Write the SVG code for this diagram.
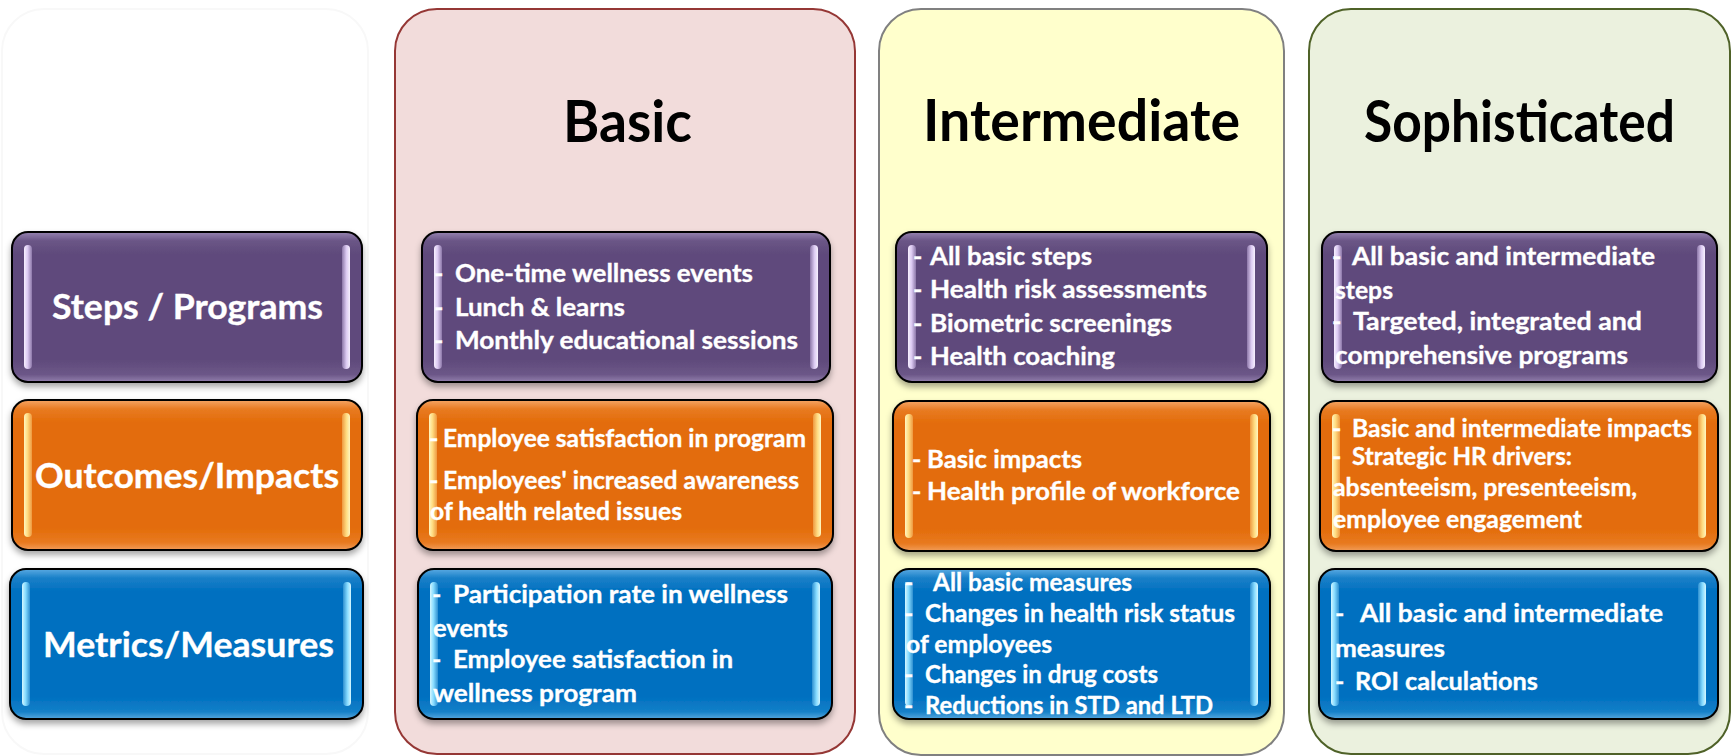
<svg xmlns="http://www.w3.org/2000/svg" width="1734" height="756" viewBox="0 0 1734 756">
  <defs>
    <style>
      .box{stroke:#000;stroke-width:2}
      .t{font-family:Lato,"Liberation Sans",sans-serif;font-weight:700;font-size:25px;fill:#fff;stroke:#fff;stroke-width:0.35}
      .lbl{font-size:35px}
      .ttl{font-family:Lato,"Liberation Sans",sans-serif;font-weight:700;font-size:58px;fill:#000}
      .col{stroke-width:2}
    </style>
    <filter id="sh" x="-10%" y="-10%" width="120%" height="130%">
      <feDropShadow dx="0" dy="4" stdDeviation="3" flood-color="#000" flood-opacity="0.35"/>
    </filter>
    <!-- glossy fills -->
    <linearGradient id="gP" x1="0" y1="0" x2="0" y2="1">
      <stop offset="0" stop-color="#9683B0"/>
      <stop offset="0.06" stop-color="#6A5586"/>
      <stop offset="0.15" stop-color="#5F4A7B"/>
      <stop offset="0.85" stop-color="#5F4A7B"/>
      <stop offset="0.95" stop-color="#6C5788"/>
      <stop offset="1" stop-color="#927FAD"/>
    </linearGradient>
    <linearGradient id="gO" x1="0" y1="0" x2="0" y2="1">
      <stop offset="0" stop-color="#F5A565"/>
      <stop offset="0.06" stop-color="#E87B22"/>
      <stop offset="0.15" stop-color="#E36C0A"/>
      <stop offset="0.85" stop-color="#E36C0A"/>
      <stop offset="0.95" stop-color="#E87A20"/>
      <stop offset="1" stop-color="#F29C58"/>
    </linearGradient>
    <linearGradient id="gB" x1="0" y1="0" x2="0" y2="1">
      <stop offset="0" stop-color="#5AAAE2"/>
      <stop offset="0.06" stop-color="#1A80C8"/>
      <stop offset="0.15" stop-color="#0070C0"/>
      <stop offset="0.85" stop-color="#0070C0"/>
      <stop offset="0.95" stop-color="#1480C8"/>
      <stop offset="1" stop-color="#55A6DE"/>
    </linearGradient>
    <!-- side highlight bars -->
    <linearGradient id="bPL" x1="0" y1="0" x2="1" y2="0">
      <stop offset="0" stop-color="#F7F0FF"/>
      <stop offset="0.45" stop-color="#DCCAF2"/>
      <stop offset="1" stop-color="#8C77A8"/>
    </linearGradient>
    <linearGradient id="bPR" x1="1" y1="0" x2="0" y2="0">
      <stop offset="0" stop-color="#F7F0FF"/>
      <stop offset="0.45" stop-color="#DCCAF2"/>
      <stop offset="1" stop-color="#8C77A8"/>
    </linearGradient>
    <linearGradient id="bOL" x1="0" y1="0" x2="1" y2="0">
      <stop offset="0" stop-color="#FFF6C0"/>
      <stop offset="0.45" stop-color="#FFDB80"/>
      <stop offset="1" stop-color="#EE9840"/>
    </linearGradient>
    <linearGradient id="bOR" x1="1" y1="0" x2="0" y2="0">
      <stop offset="0" stop-color="#FFF6C0"/>
      <stop offset="0.45" stop-color="#FFDB80"/>
      <stop offset="1" stop-color="#EE9840"/>
    </linearGradient>
    <linearGradient id="bBL" x1="0" y1="0" x2="1" y2="0">
      <stop offset="0" stop-color="#D4F7FF"/>
      <stop offset="0.45" stop-color="#86DBFF"/>
      <stop offset="1" stop-color="#2E8FD0"/>
    </linearGradient>
    <linearGradient id="bBR" x1="1" y1="0" x2="0" y2="0">
      <stop offset="0" stop-color="#D4F7FF"/>
      <stop offset="0.45" stop-color="#86DBFF"/>
      <stop offset="1" stop-color="#2E8FD0"/>
    </linearGradient>
  </defs>

  <rect width="1734" height="756" fill="#fff"/>

  <!-- column panels -->
  <g id="col-labels">
    <rect x="2" y="9" width="366" height="745" rx="42" fill="#fff" stroke="#F8F8F8" class="col"/>
  </g>
  <g id="col-basic">
    <rect x="395" y="9" width="460" height="745" rx="42" fill="#F2DCDB" stroke="#953735" class="col"/>
    <text class="ttl" x="563" y="142" textLength="129" lengthAdjust="spacingAndGlyphs">Basic</text>
  </g>
  <g id="col-intermediate">
    <rect x="879" y="9" width="405" height="746" rx="42" fill="#FFFFCC" stroke="#808080" class="col"/>
    <text class="ttl" x="923" y="141" textLength="317" lengthAdjust="spacingAndGlyphs">Intermediate</text>
  </g>
  <g id="col-sophisticated">
    <rect x="1309" y="9" width="421" height="745" rx="42" fill="#EBF1DE" stroke="#4F6228" class="col"/>
    <text class="ttl" x="1364" y="142" textLength="311" lengthAdjust="spacingAndGlyphs">Sophisticated</text>
  </g>

  <!-- row headers -->
  <g id="label-steps">
    <rect class="box" x="12" y="232" width="350" height="150" rx="16" fill="url(#gP)" filter="url(#sh)"/>
    <rect x="24" y="245" width="8" height="124" rx="4" fill="url(#bPL)"/>
    <rect x="342" y="245" width="8" height="124" rx="4" fill="url(#bPR)"/>
    <text class="t lbl" x="52" y="319" textLength="271" lengthAdjust="spacingAndGlyphs">Steps / Programs</text>
  </g>
  <g id="label-outcomes">
    <rect class="box" x="12" y="400" width="350" height="150" rx="16" fill="url(#gO)" filter="url(#sh)"/>
    <rect x="24" y="413" width="8" height="124" rx="4" fill="url(#bOL)"/>
    <rect x="342" y="413" width="8" height="124" rx="4" fill="url(#bOR)"/>
    <text class="t lbl" x="35" y="488" textLength="304" lengthAdjust="spacingAndGlyphs">Outcomes/Impacts</text>
  </g>
  <g id="label-metrics">
    <rect class="box" x="10" y="569" width="353" height="150" rx="16" fill="url(#gB)" filter="url(#sh)"/>
    <rect x="22" y="582" width="8" height="124" rx="4" fill="url(#bBL)"/>
    <rect x="343" y="582" width="8" height="124" rx="4" fill="url(#bBR)"/>
    <text class="t lbl" x="43" y="657" textLength="291" lengthAdjust="spacingAndGlyphs">Metrics/Measures</text>
  </g>

  <!-- Basic -->
  <g id="basic-steps">
    <rect class="box" x="422" y="232" width="408" height="150" rx="16" fill="url(#gP)" filter="url(#sh)"/>
    <rect x="434" y="245" width="8" height="124" rx="4" fill="url(#bPL)"/>
    <rect x="810" y="245" width="8" height="124" rx="4" fill="url(#bPR)"/>
    <text class="t" x="434" y="282">-</text>
    <text class="t" x="434" y="316">-</text>
    <text class="t" x="434" y="349">-</text>
    <text class="t" x="455" y="282" textLength="298" lengthAdjust="spacingAndGlyphs">One-time wellness events</text>
    <text class="t" x="455" y="316" textLength="170" lengthAdjust="spacingAndGlyphs">Lunch &amp; learns</text>
    <text class="t" x="455" y="349" textLength="343" lengthAdjust="spacingAndGlyphs">Monthly educational sessions</text>
  </g>
  <g id="basic-outcomes">
    <rect class="box" x="417" y="400" width="416" height="150" rx="16" fill="url(#gO)" filter="url(#sh)"/>
    <rect x="429" y="413" width="8" height="124" rx="4" fill="url(#bOL)"/>
    <rect x="813" y="413" width="8" height="124" rx="4" fill="url(#bOR)"/>
    <text class="t" x="429" y="447">-</text>
    <text class="t" x="429" y="489">-</text>
    <text class="t" x="443" y="447" textLength="363" lengthAdjust="spacingAndGlyphs">Employee satisfaction in program</text>
    <text class="t" x="443" y="489" textLength="356" lengthAdjust="spacingAndGlyphs">Employees' increased awareness</text>
    <text class="t" x="430" y="520" textLength="252" lengthAdjust="spacingAndGlyphs">of health related issues</text>
  </g>
  <g id="basic-metrics">
    <rect class="box" x="418" y="569" width="414" height="150" rx="16" fill="url(#gB)" filter="url(#sh)"/>
    <rect x="430" y="582" width="8" height="124" rx="4" fill="url(#bBL)"/>
    <rect x="812" y="582" width="8" height="124" rx="4" fill="url(#bBR)"/>
    <text class="t" x="432" y="603">-</text>
    <text class="t" x="432" y="668">-</text>
    <text class="t" x="453" y="603" textLength="335" lengthAdjust="spacingAndGlyphs">Participation rate in wellness</text>
    <text class="t" x="433" y="637" textLength="75" lengthAdjust="spacingAndGlyphs">events</text>
    <text class="t" x="453" y="668" textLength="280" lengthAdjust="spacingAndGlyphs">Employee satisfaction in</text>
    <text class="t" x="433" y="702" textLength="204" lengthAdjust="spacingAndGlyphs">wellness program</text>
  </g>

  <!-- Intermediate -->
  <g id="intermediate-steps">
    <rect class="box" x="896" y="232" width="371" height="150" rx="16" fill="url(#gP)" filter="url(#sh)"/>
    <rect x="908" y="245" width="8" height="124" rx="4" fill="url(#bPL)"/>
    <rect x="1247" y="245" width="8" height="124" rx="4" fill="url(#bPR)"/>
    <text class="t" x="913" y="265">-</text>
    <text class="t" x="913" y="298">-</text>
    <text class="t" x="913" y="332">-</text>
    <text class="t" x="913" y="365">-</text>
    <text class="t" x="930" y="265" textLength="162" lengthAdjust="spacingAndGlyphs">All basic steps</text>
    <text class="t" x="930" y="298" textLength="277" lengthAdjust="spacingAndGlyphs">Health risk assessments</text>
    <text class="t" x="930" y="332" textLength="242" lengthAdjust="spacingAndGlyphs">Biometric screenings</text>
    <text class="t" x="930" y="365" textLength="185" lengthAdjust="spacingAndGlyphs">Health coaching</text>
  </g>
  <g id="intermediate-outcomes">
    <rect class="box" x="893" y="401" width="377" height="150" rx="16" fill="url(#gO)" filter="url(#sh)"/>
    <rect x="905" y="414" width="8" height="124" rx="4" fill="url(#bOL)"/>
    <rect x="1250" y="414" width="8" height="124" rx="4" fill="url(#bOR)"/>
    <text class="t" x="912" y="468">-</text>
    <text class="t" x="912" y="500">-</text>
    <text class="t" x="927" y="468" textLength="155" lengthAdjust="spacingAndGlyphs">Basic impacts</text>
    <text class="t" x="927" y="500" textLength="313" lengthAdjust="spacingAndGlyphs">Health profile of workforce</text>
  </g>
  <g id="intermediate-metrics">
    <rect class="box" x="893" y="569" width="377" height="150" rx="16" fill="url(#gB)" filter="url(#sh)"/>
    <rect x="905" y="582" width="8" height="124" rx="4" fill="url(#bBL)"/>
    <rect x="1250" y="582" width="8" height="124" rx="4" fill="url(#bBR)"/>
    <text class="t" x="904" y="591">-</text>
    <text class="t" x="904" y="622">-</text>
    <text class="t" x="904" y="683">-</text>
    <text class="t" x="904" y="714">-</text>
    <text class="t" x="933" y="591" textLength="199" lengthAdjust="spacingAndGlyphs">All basic measures</text>
    <text class="t" x="925" y="622" textLength="310" lengthAdjust="spacingAndGlyphs">Changes in health risk status</text>
    <text class="t" x="906" y="653" textLength="146" lengthAdjust="spacingAndGlyphs">of employees</text>
    <text class="t" x="925" y="683" textLength="233" lengthAdjust="spacingAndGlyphs">Changes in drug costs</text>
    <text class="t" x="925" y="714" textLength="288" lengthAdjust="spacingAndGlyphs">Reductions in STD and LTD</text>
  </g>

  <!-- Sophisticated -->
  <g id="sophisticated-steps">
    <rect class="box" x="1322" y="232" width="395" height="150" rx="16" fill="url(#gP)" filter="url(#sh)"/>
    <rect x="1334" y="245" width="8" height="124" rx="4" fill="url(#bPL)"/>
    <rect x="1697" y="245" width="8" height="124" rx="4" fill="url(#bPR)"/>
    <text class="t" x="1332" y="265">-</text>
    <text class="t" x="1332" y="330">-</text>
    <text class="t" x="1352" y="265" textLength="303" lengthAdjust="spacingAndGlyphs">All basic and intermediate</text>
    <text class="t" x="1335" y="299" textLength="58" lengthAdjust="spacingAndGlyphs">steps</text>
    <text class="t" x="1353" y="330" textLength="289" lengthAdjust="spacingAndGlyphs">Targeted, integrated and</text>
    <text class="t" x="1335" y="364" textLength="293" lengthAdjust="spacingAndGlyphs">comprehensive programs</text>
  </g>
  <g id="sophisticated-outcomes">
    <rect class="box" x="1320" y="401" width="398" height="150" rx="16" fill="url(#gO)" filter="url(#sh)"/>
    <rect x="1332" y="414" width="8" height="124" rx="4" fill="url(#bOL)"/>
    <rect x="1698" y="414" width="8" height="124" rx="4" fill="url(#bOR)"/>
    <text class="t" x="1332" y="437">-</text>
    <text class="t" x="1332" y="465">-</text>
    <text class="t" x="1352" y="437" textLength="340" lengthAdjust="spacingAndGlyphs">Basic and intermediate impacts</text>
    <text class="t" x="1352" y="465" textLength="220" lengthAdjust="spacingAndGlyphs">Strategic HR drivers:</text>
    <text class="t" x="1333" y="496" textLength="304" lengthAdjust="spacingAndGlyphs">absenteeism, presenteeism,</text>
    <text class="t" x="1333" y="528" textLength="249" lengthAdjust="spacingAndGlyphs">employee engagement</text>
  </g>
  <g id="sophisticated-metrics">
    <rect class="box" x="1319" y="569" width="399" height="150" rx="16" fill="url(#gB)" filter="url(#sh)"/>
    <rect x="1331" y="582" width="8" height="124" rx="4" fill="url(#bBL)"/>
    <rect x="1698" y="582" width="8" height="124" rx="4" fill="url(#bBR)"/>
    <text class="t" x="1335" y="622">-</text>
    <text class="t" x="1335" y="690">-</text>
    <text class="t" x="1360" y="622" textLength="303" lengthAdjust="spacingAndGlyphs">All basic and intermediate</text>
    <text class="t" x="1335" y="657" textLength="110" lengthAdjust="spacingAndGlyphs">measures</text>
    <text class="t" x="1355" y="690" textLength="183" lengthAdjust="spacingAndGlyphs">ROI calculations</text>
  </g>

  <!-- no connectors between the nodes -->
  <g id="connectors"/>
</svg>
